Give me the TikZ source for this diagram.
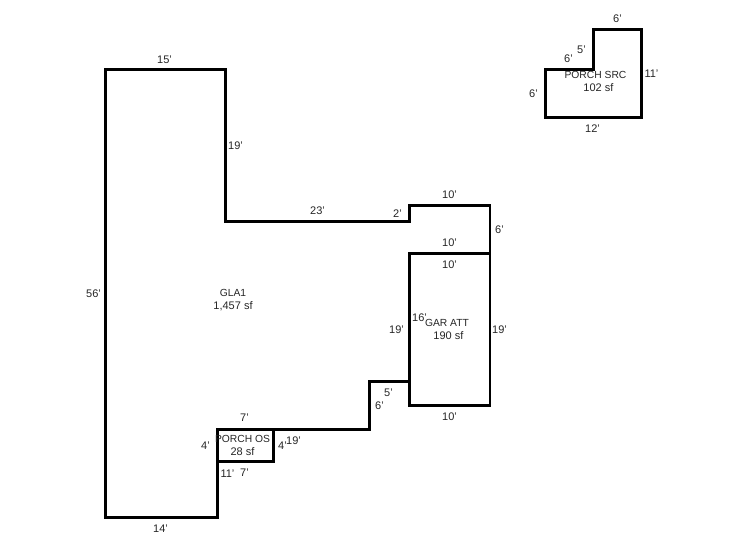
\documentclass[tikz,border=0pt]{standalone}
\usepackage{fontspec}
\setmainfont{Liberation Sans}
\tikzset{
  wall/.style={draw=black,line width=2.7pt,line join=miter},
  dim/.style={inner sep=0pt,font=\fontsize{11}{12}\selectfont,text=black!85,xshift=0.5pt,yshift=-0.5pt},
  area/.style={inner sep=0pt,align=center,font=\fontsize{10.3}{12.5}\selectfont,text=black!85,xshift=0.5pt,yshift=-0.5pt}
}
\newcommand{\numline}[1]{{\fontsize{11}{12.5}\selectfont #1}}
\begin{document}
\begin{tikzpicture}[x=1pt,y=-1pt]
\useasboundingbox (0,0) rectangle (746,547);
\fill[white] (0,0) rectangle (746,547);
% outline GLA1
\draw[wall] (105.7,69.5) -- (225.7,69.5) -- (225.7,221.5) -- (409.7,221.5) -- (409.7,205.5) -- (489.9,205.5) -- (489.9,405.5) -- (409.7,405.5) -- (409.7,381.5) -- (369.7,381.5) -- (369.7,429.5) -- (217.7,429.5) -- (217.7,517.5) -- (105.7,517.5) -- cycle;
% garage
\draw[wall] (409.7,253.5) -- (489.9,253.5) -- (489.9,405.5) -- (409.7,405.5) -- cycle;
% porch OS
\draw[wall] (217.7,429.5) -- (273.7,429.5) -- (273.7,461.5) -- (217.7,461.5) -- cycle;
% porch SRC
\draw[wall] (545.7,69.5) -- (593.7,69.5) -- (593.7,29.5) -- (641.7,29.5) -- (641.7,117.5) -- (545.7,117.5) -- cycle;
% area labels
\node[area] (gla) at (232.5,299.5) {GLA1\\\numline{1,457 sf}};
\node[area] (gar) at (446.5,329) {GAR ATT\\\ \numline{190 sf}};
\node[area] (pos) at (242,445) {PORCH OS\\\numline{28 sf}};
\node[area] (psrc) at (595,81) {PORCH SRC\\\ \ \numline{102 sf}};
% dimensions
\node[dim] (d1) at (164,59) {15'};
\node[dim] (d2) at (235,145) {19'};
\node[dim] (d3) at (93,293) {56'};
\node[dim] (d4) at (317,210) {23'};
\node[dim] (d5) at (397,213) {2'};
\node[dim] (d6) at (449,194) {10'};
\node[dim] (d7) at (499,229) {6'};
\node[dim] (d8) at (449,242) {10'};
\node[dim] (d9) at (449,264) {10'};
\node[dim] (d10) at (396,329) {19'};
\node[dim] (d11) at (419,317) {16'};
\node[dim] (d12) at (499,329) {19'};
\node[dim] (d13) at (449,416) {10'};
\node[dim] (d14) at (388,392) {5'};
\node[dim] (d15) at (379,405) {6'};
\node[dim] (d16) at (244,417) {7'};
\node[dim] (d17) at (205,445) {4'};
\node[dim] (d18) at (282,445) {4'};
\node[dim] (d19) at (293,440) {19'};
\node[dim] (d20) at (227,473) {11'};
\node[dim] (d21) at (244,472) {7'};
\node[dim] (d22) at (160,528) {14'};
\node[dim] (d23) at (617,18) {6'};
\node[dim] (d24) at (581,49) {5'};
\node[dim] (d25) at (568,58) {6'};
\node[dim] (d26) at (651,73) {11'};
\node[dim] (d27) at (533,93) {6'};
\node[dim] (d28) at (592,128) {12'};
\end{tikzpicture}
\end{document}
